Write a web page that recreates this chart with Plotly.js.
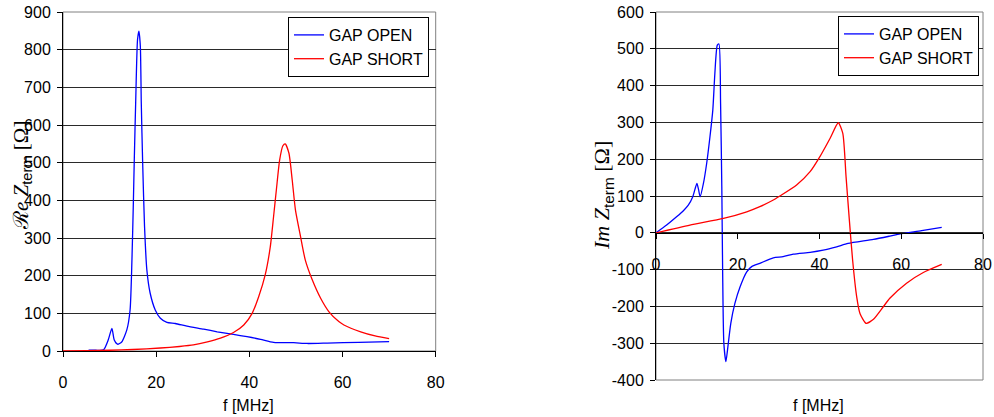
<!DOCTYPE html>
<html>
<head>
<meta charset="utf-8">
<script src="https://cdn.plot.ly/plotly-3.0.1.min.js"></script>
<style>
html,body{margin:0;padding:0;background:#fff;}
#chart{width:994px;height:417px;}
</style>
</head>
<body>
<div id="chart"></div>
<script>
// ---- Data ----
// Left chart: Re Z_term [Ohm] vs f [MHz]
var reOpenF = [5.5, 7, 8.7, 9.7, 10.5, 11.0, 11.7, 12.6, 13.7, 14.4, 14.8, 15.1, 15.3, 15.6, 16.0, 16.3, 16.6, 16.8, 17.1, 17.5, 18.0, 18.7, 19.8, 20.9, 22.3, 24.1, 26.6, 30.2, 33.1, 36.6, 39.5, 42.4, 45.2, 49.5, 52.4, 56.7, 63.5, 70.0];
var reOpenV = [2, 2, 3, 29, 60, 29, 18, 24, 56, 109, 242, 393, 508, 660, 827, 849, 809, 660, 500, 331, 215, 154, 109, 87, 76, 73, 66, 58, 51, 44, 38, 31, 23, 22, 20, 21, 23, 25];
var reShortF = [0, 5, 10, 15, 20.9, 25, 28, 31, 33.8, 36.6, 38.8, 40.6, 42.0, 43.4, 44.5, 45.2, 45.8, 46.5, 47.2, 47.7, 48.5, 49.2, 49.9, 51.0, 52.0, 53.5, 55.3, 57.1, 59.2, 60.3, 63.9, 67, 70];
var reShortV = [0, 1, 2, 4, 8, 12, 16, 24, 34, 49, 69, 100, 144, 202, 277, 357, 428, 507, 545, 550, 525, 454, 374, 303, 242, 189, 140, 104, 78, 69, 51, 40, 33];

// Right chart: Im Z_term [Ohm] vs f [MHz]
var imOpenF = [0, 2.6, 5.1, 6.7, 7.9, 9.0, 10.0, 10.4, 10.8, 11.6, 12.4, 13.2, 13.9, 14.4, 15.0, 15.4, 15.8, 16.1, 16.3, 16.6, 17.1, 17.5, 18.3, 19.3, 20.6, 22.2, 23.4, 25.4, 28.7, 31.1, 33.6, 37.7, 40.9, 44.2, 47.0, 53.2, 57.2, 59.7, 65, 69.9];
var imOpenV = [0, 21, 44, 60, 75, 98, 134, 118, 98, 134, 189, 261, 334, 433, 510, 513, 352, 125, -101, -300, -350, -318, -246, -192, -146, -106, -92, -83, -68, -65, -58, -53, -47, -38, -29, -18, -9, -3, 6, 15];
var imShortF = [0, 8.3, 16.5, 22.2, 25.4, 28.7, 30.3, 34.4, 37.7, 40.1, 42.6, 44.6, 45.7, 46.5, 47.3, 48.1, 49.1, 49.9, 51.4, 53.2, 55.6, 57.2, 61.3, 65.4, 69.9];
var imShortV = [0, 21, 39, 57, 71, 89, 100, 130, 166, 207, 257, 299, 270, 152, 35, -74, -174, -219, -246, -235, -201, -178, -137, -108, -86];

var seriesNames = ['GAP OPEN', 'GAP SHORT'];
var xTickVals = [0, 20, 40, 60, 80];
var xTickText = ['0', '20', '40', '60', '80'];
var reTickVals = [0, 100, 200, 300, 400, 500, 600, 700, 800, 900];
var reTickText = ['0', '100', '200', '300', '400', '500', '600', '700', '800', '900'];
var imTickVals = [-400, -300, -200, -100, 0, 100, 200, 300, 400, 500, 600];
var imTickText = ['-400', '-300', '-200', '-100', '0', '100', '200', '300', '400', '500', '600'];
var xTitle = 'f [MHz]';

// ---- Styling ----
var W = 994, H = 417;
var FONT = 'Liberation Sans, Arial, sans-serif';
var tickFont = {family: FONT, size: 16, color: '#000'};
var blue = '#0000ff', red = '#ff0000';

function px(x) { return x / W; }
function py(y) { return 1 - y / H; }

function lineStyle(c) { return {color: c, width: 1.3, shape: 'spline', smoothing: 0.6}; }

var traces = [
  {x: reOpenF, y: reOpenV, name: seriesNames[0], type: 'scatter', mode: 'lines', line: lineStyle(blue), xaxis: 'x', yaxis: 'y', legend: 'legend', legendgroup: 'a'},
  {x: reShortF, y: reShortV, name: seriesNames[1], type: 'scatter', mode: 'lines', line: lineStyle(red), xaxis: 'x', yaxis: 'y', legend: 'legend', legendgroup: 'b'},
  {x: imOpenF, y: imOpenV, name: seriesNames[0], type: 'scatter', mode: 'lines', line: lineStyle(blue), xaxis: 'x2', yaxis: 'y2', legend: 'legend2', legendgroup: 'c'},
  {x: imShortF, y: imShortV, name: seriesNames[1], type: 'scatter', mode: 'lines', line: lineStyle(red), xaxis: 'x2', yaxis: 'y2', legend: 'legend2', legendgroup: 'd'}
];

var axisCommon = {
  showline: true, linecolor: '#000', linewidth: 1,
  ticks: 'outside', ticklen: 5, tickcolor: '#000', tickwidth: 1,
  tickfont: tickFont, zeroline: false, fixedrange: true
};

function legendCfg(rightPx, topPx) {
  return {
    x: px(rightPx), xanchor: 'right', y: py(topPx), yanchor: 'top',
    bgcolor: '#fff', bordercolor: '#000', borderwidth: 1,
    font: {family: FONT, size: 16, color: '#000'},
    itemwidth: 30, tracegroupgap: 6, traceorder: 'normal'
  };
}

var layout = {
  width: W, height: H,
  margin: {l: 0, r: 0, t: 0, b: 0, pad: 0},
  paper_bgcolor: '#fff', plot_bgcolor: '#fff',
  font: {family: FONT, size: 16, color: '#000'},
  showlegend: true,
  xaxis: Object.assign({}, axisCommon, {
    domain: [px(63), px(435.7)], range: [0, 80], anchor: 'y',
    tickmode: 'array', tickvals: xTickVals, ticktext: xTickText,
    showgrid: false, ticklabelstandoff: 12
  }),
  yaxis: Object.assign({}, axisCommon, {
    domain: [py(351), py(12)], range: [0, 900], anchor: 'x',
    tickmode: 'array', tickvals: reTickVals, ticktext: reTickText,
    showgrid: true, gridcolor: '#2a2a2a', gridwidth: 1, ticklabelstandoff: 3
  }),
  xaxis2: Object.assign({}, axisCommon, {
    domain: [px(656), px(983)], range: [0, 80], anchor: 'free', position: py(232.8),
    tickmode: 'array', tickvals: xTickVals, ticktext: xTickText,
    showgrid: false, ticklabelstandoff: 12
  }),
  yaxis2: Object.assign({}, axisCommon, {
    domain: [py(380), py(12)], range: [-400, 600], anchor: 'x2',
    tickmode: 'array', tickvals: imTickVals, ticktext: imTickText,
    showgrid: true, gridcolor: '#2a2a2a', gridwidth: 1, ticklabelstandoff: 3
  }),
  legend: legendCfg(429, 17),
  legend2: legendCfg(979, 16),
  shapes: [
    {type: 'rect', xref: 'x domain', yref: 'y domain', x0: 0, x1: 1, y0: 0, y1: 1, line: {color: '#808080', width: 1}, layer: 'below'},
    {type: 'rect', xref: 'x2 domain', yref: 'y2 domain', x0: 0, x1: 1, y0: 0, y1: 1, line: {color: '#808080', width: 1}, layer: 'below'}
  ],
  annotations: [
    {text: xTitle, xref: 'paper', yref: 'paper', x: px(248), y: py(405), xanchor: 'center', yanchor: 'middle', showarrow: false, font: {family: FONT, size: 16, color: '#000'}},
    {text: xTitle, xref: 'paper', yref: 'paper', x: px(818), y: py(405), xanchor: 'center', yanchor: 'middle', showarrow: false, font: {family: FONT, size: 16, color: '#000'}},
    {text: '<span style="font-family:DejaVu Serif">ℛ</span><i>e Z</i><sub><span style="font-family:Liberation Sans">term</span></sub> [Ω]', xref: 'paper', yref: 'paper', x: px(22), y: py(176), xanchor: 'center', yanchor: 'middle', textangle: -90, showarrow: false, font: {family: 'Liberation Serif, DejaVu Serif, serif', size: 21, color: '#000'}},
    {text: '<i>Im Z</i><sub><span style="font-family:Liberation Sans">term</span></sub> [Ω]', xref: 'paper', yref: 'paper', x: px(603), y: py(196), xanchor: 'center', yanchor: 'middle', textangle: -90, showarrow: false, font: {family: 'Liberation Serif, DejaVu Serif, serif', size: 22, color: '#000'}}
  ]
};

Plotly.newPlot('chart', traces, layout, {displayModeBar: false, staticPlot: true});
</script>
</body>
</html>
